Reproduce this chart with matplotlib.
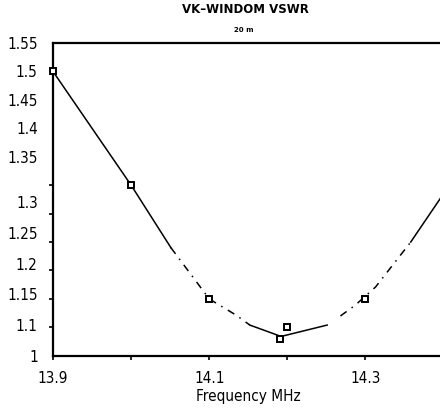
import numpy as np
import matplotlib
matplotlib.use('Agg')
from matplotlib import pyplot as plt

# measured points (MHz, VSWR)
freq = [13.9, 14.0, 14.1, 14.19, 14.2, 14.3]
vswr = [1.50, 1.30, 1.10, 1.03, 1.05, 1.10]

# trend line drawn through the points
curve_f = [13.9, 14.0, 14.051, 14.10, 14.135, 14.152, 14.192, 14.251,
           14.268, 14.287, 14.313, 14.358, 14.40, 14.41]
curve_v = [1.50, 1.30, 1.19, 1.10, 1.071, 1.054, 1.034, 1.054,
           1.07, 1.089, 1.121, 1.20, 1.285, 1.305]

# tick labels as printed (the 1.05 one is missing on the original)
ytick_text = ['1.55', '1.5', '1.45', '1.4', '1.35', '1.3', '1.25', '1.2', '1.15', '1.1', '1']
xtick_text = ['13.9', '14.1', '14.3']
xtick_vals = [13.9, 14.1, 14.3]

plt.rcParams['font.family'] = ['DejaVu Sans']
plt.rcParams['font.stretch'] = 'condensed'

fig = plt.figure(figsize=(4.4, 4.08), dpi=100)
ax = fig.add_axes([0.1205, 0.128, 0.8875, 0.7665])

# solid / broken pieces of the line (start, end index, style)
pieces = [(0, 2, '-'), (2, 5, (0, (5, 4, 1, 4))), (5, 7, '-'),
          (8, 11, (0, (5, 4, 1, 4))), (11, 13, '-')]
for a, b, ls in pieces:
    ax.plot(curve_f[a:b + 1], curve_v[a:b + 1], color='black', lw=1.1, ls=ls,
            clip_on=False)

ax.plot(freq, vswr, ls='none', marker='s', ms=5, mfc='white', mec='black',
        mew=1.4, clip_on=False, zorder=5)

ax.set_xlim(13.9, 14.4)
ax.set_ylim(1.0, 1.55)

ax.set_xticks(xtick_vals)
ax.set_xticklabels(xtick_text, fontsize=11)
ax.set_xticks([14.0, 14.2], minor=True)

# labels drift downwards on the original, marks stay every 0.05
label_pos = list(np.arange(1.55, 1.34, -0.05)) + list(np.linspace(1.27, 1.0, 6))
ax.set_yticks(label_pos)
ax.set_yticklabels(ytick_text, fontsize=11)
ax.set_yticks(np.arange(1.0, 1.56, 0.05), minor=True)

ax.tick_params(axis='y', which='major', length=0, pad=11)
ax.tick_params(axis='y', which='minor', length=3, width=1.2, direction='out')
ax.tick_params(axis='x', which='both', length=3, width=1.2, direction='out', pad=8)

for side in ['left', 'bottom', 'top']:
    ax.spines[side].set_linewidth(1.6)
ax.spines['right'].set_visible(False)

ax.set_xlabel('Frequency MHz', fontsize=11, labelpad=2)

fig.text(0.558, 0.977, 'VK\u2013WINDOM VSWR', fontsize=8.5, fontweight='bold',
         family='DejaVu Sans', stretch='normal', ha='center', va='center')
fig.text(0.553, 0.926, '20 m', fontsize=5, fontweight='bold',
         family='DejaVu Sans', stretch='normal', ha='center', va='center')

fig.savefig('out.png', dpi=100)
